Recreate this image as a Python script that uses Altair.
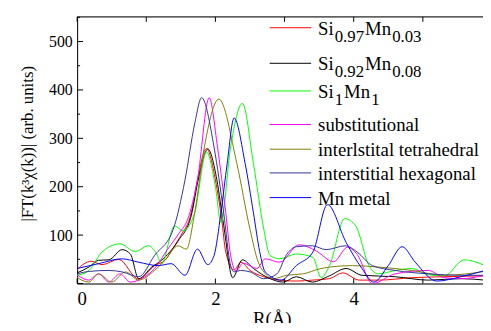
import altair as alt
import pandas as pd

# ---- data ----
names = ["Si0.97Mn0.03", "Si0.92Mn0.08", "Si1Mn1", "substitutional",
         "interlstital tetrahedral", "interstitial hexagonal", "Mn metal"]
colors = ["#ff0000", "#000000", "#00ff00", "#ff00ff", "#808000", "#333399", "#0000ff"]

red_r = [0, 0.2, 0.36, 0.6, 0.89, 1.12, 1.27, 1.41, 1.5, 1.65, 1.74, 1.87, 2.0, 2.09, 2.15, 2.27, 2.37, 2.5, 2.7, 2.93, 3.17, 3.4, 3.65, 3.84, 4.08, 4.36, 4.84, 5.3, 5.9]
red_v = [29, 46, 39, 50, 9, 37, 48, 78, 99, 146, 214, 279, 214, 133, 65, 28, 44, 27, 14, 7, 5, 7, 10, 22, 7, 7, 12, 14, 16]

black_r = [0, 0.17, 0.31, 0.46, 0.65, 0.77, 0.89, 1.08, 1.22, 1.46, 1.65, 1.76, 1.89, 2.02, 2.12, 2.25, 2.39, 2.55, 2.79, 2.98, 3.17, 3.4, 3.65, 3.89, 4.12, 4.6, 5.08, 5.55, 5.9]
black_v = [22, 34, 48, 49, 70, 61, 10, 34, 48, 88, 140, 220, 278, 215, 120, 12, 49, 31, 10, 3, 14, 3, 16, 31, 17, 14, 7, 10, 7]

green_r = [0, 0.17, 0.36, 0.62, 0.84, 1.03, 1.15, 1.22, 1.41, 1.53, 1.7, 1.87, 2.0, 2.08, 2.22, 2.39, 2.55, 2.7, 2.79, 2.93, 3.17, 3.41, 3.53, 3.65, 3.87, 4.03, 4.22, 4.36, 4.6, 4.84, 5.08, 5.31, 5.6, 5.9]
green_v = [17, 27, 65, 82, 66, 78, 61, 41, 119, 109, 146, 272, 200, 126, 282, 372, 248, 112, 58, 51, 61, 54, 12, 37, 134, 119, 37, 20, 27, 31, 18, 16, 49, 37]

magenta_r = [0, 0.17, 0.31, 0.46, 0.62, 0.77, 0.93, 1.12, 1.31, 1.48, 1.6, 1.74, 1.91, 2.03, 2.15, 2.22, 2.3, 2.4, 2.6, 2.72, 2.93, 3.21, 3.45, 3.71, 3.91, 4.05, 4.27, 4.6, 5.08, 5.31, 5.55, 5.9]
magenta_v = [18, 7, 20, 3, 20, 3, 10, 31, 71, 105, 133, 214, 384, 282, 146, 58, 26, 42, 31, 51, 44, 80, 68, 45, 75, 60, 0, 20, 27, 12, 10, 17]

olive_r = [0, 0.17, 0.31, 0.5, 0.7, 0.89, 1.12, 1.27, 1.46, 1.58, 1.7, 1.84, 2.05, 2.31, 2.5, 2.62, 2.7, 2.84, 3.03, 3.27, 3.5, 3.65, 3.98, 4.36, 4.84, 5.31, 5.9]
olive_v = [12, 3, 20, 3, 24, 7, 27, 48, 78, 71, 146, 282, 381, 248, 112, 44, 24, 10, 17, 20, 30, 34, 37, 34, 27, 17, 25]

navy_r = [0, 0.17, 0.46, 0.65, 0.89, 1.12, 1.39, 1.56, 1.7, 1.8, 1.98, 2.12, 2.22, 2.27, 2.36, 2.5, 2.7, 2.89, 3.03, 3.17, 3.4, 3.6, 3.88, 4.05, 4.27, 4.6, 5.08, 5.55, 5.9]
navy_v = [20, 25, 27, 24, 14, 58, 112, 214, 330, 384, 282, 146, 37, 24, 27, 24, 10, 20, 60, 76, 78, 70, 78, 65, 37, 27, 20, 17, 17]

blue_r = [0, 0.31, 0.65, 0.89, 1.17, 1.36, 1.56, 1.74, 1.89, 1.98, 2.08, 2.17, 2.27, 2.43, 2.55, 2.64, 2.72, 2.95, 3.17, 3.41, 3.62, 3.89, 4.12, 4.29, 4.5, 4.7, 4.89, 5.2, 5.55, 5.9]
blue_v = [31, 41, 51, 44, 37, 41, 17, 71, 39, 58, 146, 248, 342, 248, 146, 66, 24, 7, 37, 65, 163, 85, 31, 3, 37, 76, 44, 5, 14, 27]

series_r = [red_r, black_r, green_r, magenta_r, olive_r, navy_r, blue_r]
series_v = [red_v, black_v, green_v, magenta_v, olive_v, navy_v, blue_v]

# legend label pieces: (text, is_subscript)
legend_parts = [
    [("Si", False), ("0.97", True), ("Mn", False), ("0.03", True)],
    [("Si", False), ("0.92", True), ("Mn", False), ("0.08", True)],
    [("Si", False), ("1", True), ("Mn", False), ("1", True)],
    [("substitutional", False)],
    [("interlstital tetrahedral", False)],
    [("interstitial hexagonal", False)],
    [("Mn metal", False)],
]

y_major = [0, 100, 200, 300, 400, 500]
y_minor = [50, 150, 250, 350, 450, 550]
x_major = [0, 1, 2, 3, 4, 5]
x_labels = [0, 2, 4]

rows = []
for i, (name, rs, vs) in enumerate(zip(names, series_r, series_v)):
    for r, v in zip(rs, vs):
        rows.append({"series": name, "R": r, "v": v, "o": i})
df = pd.DataFrame(rows)

FONT = "Liberation Serif"
XMAX = 5.87
YMAX = 551
H = 270
W = 411

xs = alt.Scale(domain=[0, XMAX], nice=False, zero=False)
ys = alt.Scale(domain=[0, YMAX], nice=False, zero=False)
cs = alt.Scale(domain=names, range=colors)

lines = alt.Chart(df).mark_line(strokeWidth=1, interpolate="monotone", clip=True).encode(
    x=alt.X("R:Q", scale=xs, axis=alt.Axis(
        values=x_labels, format="d", title="R(Å)", labelFont=FONT, labelFontSize=19,
        labelColor="black", labelPadding=6, ticks=False, grid=False,
        domainColor="black", domainWidth=1,
        titleFont=FONT, titleFontSize=19, titleFontWeight="normal", titleColor="black",
        titleX=197, titleY=27, titleBaseline="top", titleAnchor="start", titleAlign="center")),
    y=alt.Y("v:Q", scale=ys, axis=alt.Axis(
        values=[100, 200, 300, 400, 500], format="d", title="|FT(k³χ(k))| (arb. units)",
        labelFont=FONT, labelFontSize=16, labelColor="black", labelPadding=5,
        ticks=False, grid=False, domainColor="black", domainWidth=1,
        titleFont=FONT, titleFontSize=17, titleFontWeight="normal", titleColor="black",
        titleX=-50, titleY=128, titleAngle=270, titleAlign="center", titleBaseline="middle",
        titleAnchor="start")),
    color=alt.Color("series:N", scale=cs, legend=None),
    order=alt.Order("o:Q"),
    detail="series:N",
)

# top frame line
top_df = pd.DataFrame({"R": [0, XMAX]})
top_line = alt.Chart(top_df).mark_rule(color="black", strokeWidth=1).encode(
    x=alt.X("min(R):Q", scale=xs), x2="max(R):Q", y=alt.value(0))

# inward tick marks
ymaj_df = pd.DataFrame({"v": y_major})
ymin_df = pd.DataFrame({"v": y_minor})
xmaj_df = pd.DataFrame({"R": x_major})
ytick_major = alt.Chart(ymaj_df).mark_rule(color="black").encode(
    y=alt.Y("v:Q", scale=ys), x=alt.value(0), x2=alt.value(6))
ytick_minor = alt.Chart(ymin_df).mark_rule(color="black").encode(
    y=alt.Y("v:Q", scale=ys), x=alt.value(0), x2=alt.value(3))
xtick_bottom = alt.Chart(xmaj_df).mark_rule(color="black").encode(
    x=alt.X("R:Q", scale=xs), y=alt.value(H), y2=alt.value(H - 5))
xtick_top = alt.Chart(xmaj_df).mark_rule(color="black").encode(
    x=alt.X("R:Q", scale=xs), y=alt.value(0), y2=alt.value(5))

# ---- legend drawn inside the plot (layout only) ----
LEG_LINE_X0, LEG_LINE_X1, LEG_TEXT_X = 195, 237, 244
LEG_ROW_Y = [11, 47, 75, 109, 134, 158, 183]
MAIN_SIZE, SUB_SIZE = 19, 17
# approximate glyph advance widths (em) for Liberation Serif
ADV = {"S": 0.556, "i": 0.278, "M": 0.889, "n": 0.5, ".": 0.25}
def text_width(s, size):
    return sum(ADV.get(ch, 0.5) for ch in s) * size

one = pd.DataFrame({"a": [0]})
legend_layers = []
for row_i, (parts, color) in enumerate(zip(legend_parts, colors)):
    ly = LEG_ROW_Y[row_i]
    legend_layers.append(alt.Chart(one).mark_rule(strokeWidth=1, color=color).encode(
        x=alt.value(LEG_LINE_X0), x2=alt.value(LEG_LINE_X1), y=alt.value(ly)))
    cx = LEG_TEXT_X
    for txt, is_sub in parts:
        size = SUB_SIZE if is_sub else MAIN_SIZE
        base = ly + (14 if is_sub else 7)
        legend_layers.append(alt.Chart(one).mark_text(
            align="left", baseline="alphabetic", font=FONT, fontSize=size, color="black",
            text=txt).encode(x=alt.value(cx), y=alt.value(base)))
        cx += text_width(txt, size) + 1

chart = alt.layer(
    lines, top_line, ytick_major, ytick_minor, xtick_bottom, xtick_top, *legend_layers
).properties(
    width=W, height=H,
    autosize=alt.AutoSizeParams(type="none"),
    padding={"left": 70, "top": 7, "right": 0, "bottom": 38},
).configure_view(stroke=None).configure(background="white")

chart.save("out.html", embed_options={"renderer": "svg", "actions": False})
